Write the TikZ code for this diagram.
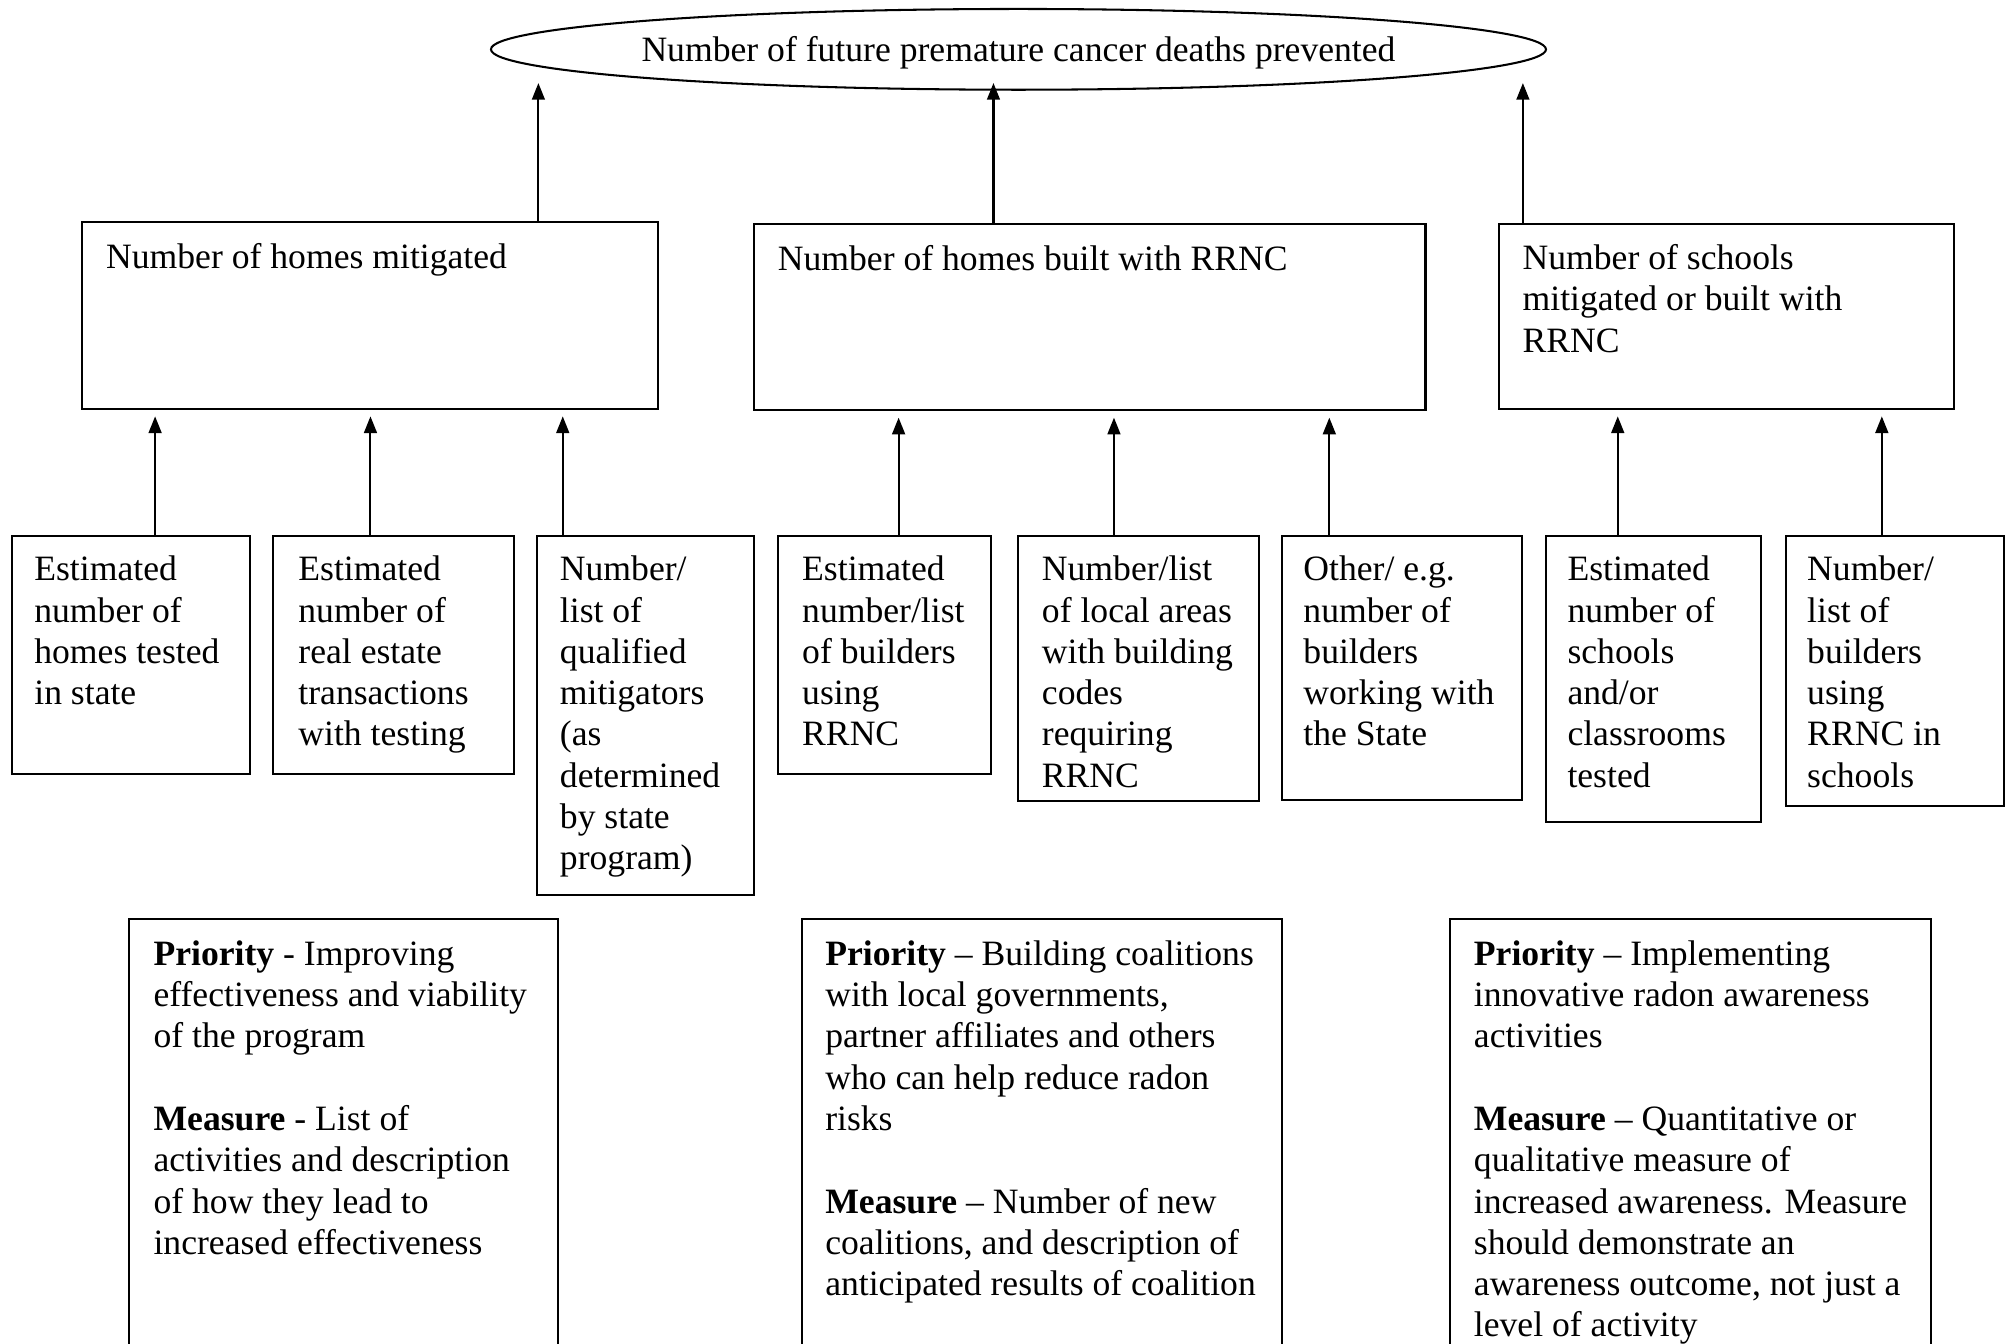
\documentclass[tikz,border=0pt]{standalone}
\usepackage{fontspec}
\setmainfont{Liberation Serif}
\usetikzlibrary{
	positioning,      % posizionamento dei nodi
	arrows.meta,      % punte di freccia
	shapes.geometric, % per l'ellisse
	fit               % riquadri attorno a due angoli
}

\begin{document}
\begin{tikzpicture}[
	x=0.5pt, y=-0.5pt,
	line width=0.8pt,
	font=\fontsize{13.9}{16.1}\selectfont,
	freccia/.style={-{Triangle[length=6.5pt,width=5pt]}},
	riquadro/.style={draw, inner sep=0pt},
	testo/.style={anchor=north west, inner sep=0pt, align=left}
	]
	\useasboundingbox (0,0) rectangle (1568,1048);
	\clip (0,0) rectangle (1568,1048);
	
	% --- Obiettivo finale ---
	\node[draw, ellipse, inner xsep=-6pt, inner ysep=0pt, text depth=0pt, minimum width=411.5pt, minimum height=31.5pt]
	(obiettivo) at (794.5,38.5) {Number of future premature cancer deaths prevented};
	
	% --- Risultati intermedi ---
	\node[riquadro, fit={(64,173) (513,319)}] (case) {};
	\node[testo] (tcase) at (82,189) {Number of homes mitigated};
	
	\node[riquadro, fit={(588,175) (1112,320)}] (nuove) {};
	\node[testo] (tnuove) at (606,191) {Number of homes built with RRNC};
	
	\node[riquadro, fit={(1169,175) (1524,319)}] (scuole) {};
	\node[testo] (tscuole) at (1187,190) {Number of schools\\mitigated or built with\\RRNC};
	
	% --- Indicatori ---
	\node[riquadro, fit={(9,418) (195,604)}] (e1) {};
	\node[testo] (te1) at (26,433) {Estimated\\number of\\homes tested\\in state};
	
	\node[riquadro, fit={(213,418) (401,604)}] (e2) {};
	\node[testo] (te2) at (232,433) {Estimated\\number of\\real estate\\transactions\\with testing};
	
	\node[riquadro, fit={(419,418) (588,698)}] (e3) {};
	\node[testo] (te3) at (436,433) {Number/\\list of\\qualified\\mitigators\\(as\\determined\\by state\\program)};
	
	\node[riquadro, fit={(607,418) (773,604)}] (e4) {};
	\node[testo] (te4) at (625,433) {Estimated\\number/list\\of builders\\using\\RRNC};
	
	\node[riquadro, fit={(794,418) (982,625)}] (e5) {};
	\node[testo] (te5) at (812,433) {Number/list\\of local areas\\with building\\codes\\requiring\\RRNC};
	
	\node[riquadro, fit={(1000,418) (1187,624)}] (e6) {};
	\node[testo] (te6) at (1016,433) {Other/ e.g.\\number of\\builders\\working with\\the State};
	
	\node[riquadro, fit={(1206,418) (1374,641)}] (e7) {};
	\node[testo] (te7) at (1222,433) {Estimated\\number of\\schools\\and/or\\classrooms\\tested};
	
	\node[riquadro, fit={(1393,418) (1563,629)}] (e8) {};
	\node[testo] (te8) at (1409,433) {Number/\\list of\\builders\\using\\RRNC in\\schools};
	
	% --- Priorita' e misure (tagliati in basso) ---
	\node[riquadro, fit={(101,717) (435,1100)}] (p1) {};
	\node[testo] (tp1) at (119,733) {\textbf{Priority} - Improving\\effectiveness and viability\\of the program\\[\baselineskip]
		\textbf{Measure} - List of\\activities and description\\of how they lead to\\increased effectiveness};
	
	\node[riquadro, fit={(626,717) (1000,1100)}] (p2) {};
	\node[testo] (tp2) at (643,733) {\textbf{Priority} – Building coalitions\\with local governments,\\partner affiliates and others\\who can help reduce radon\\risks\\[\baselineskip]
		\textbf{Measure} – Number of new\\coalitions, and description of\\anticipated results of coalition};
	
	\node[riquadro, fit={(1131,717) (1506,1100)}] (p3) {};
	\node[testo] (tp3) at (1149,733) {\textbf{Priority} – Implementing\\innovative radon awareness\\activities\\[\baselineskip]
		\textbf{Measure} – Quantitative or\\qualitative measure of\\increased awareness. Measure\\should demonstrate an\\awareness outcome, not just a\\level of activity};
	
	% --- Frecce ---
	\foreach \n/\x in {a1/121, a2/289, a3/439, b1/701, b2/869, b3/1037, c1/1262, c2/1468, s1/420, s2/775, s3/1188}
		\coordinate (\n) at (\x,0);
	
	\draw[freccia] (case.north -| s1) -- ([yshift=3pt]obiettivo.south -| s1);
	\draw[freccia] (nuove.north -| s2) -- ([yshift=3pt]obiettivo.south -| s2);
	\draw[freccia] (scuole.north -| s3) -- ([yshift=3pt]obiettivo.south -| s3);
	
	\draw[freccia, shorten >=2.5pt] (e1.north -| a1) -- (case.south -| a1);
	\draw[freccia, shorten >=2.5pt] (e2.north -| a2) -- (case.south -| a2);
	\draw[freccia, shorten >=2.5pt] (e3.north -| a3) -- (case.south -| a3);
	\draw[freccia, shorten >=2.5pt] (e4.north -| b1) -- (nuove.south -| b1);
	\draw[freccia, shorten >=2.5pt] (e5.north -| b2) -- (nuove.south -| b2);
	\draw[freccia, shorten >=2.5pt] (e6.north -| b3) -- (nuove.south -| b3);
	\draw[freccia, shorten >=2.5pt] (e7.north -| c1) -- (scuole.south -| c1);
	\draw[freccia, shorten >=2.5pt] (e8.north -| c2) -- (scuole.south -| c2);
	
\end{tikzpicture}
\end{document}
